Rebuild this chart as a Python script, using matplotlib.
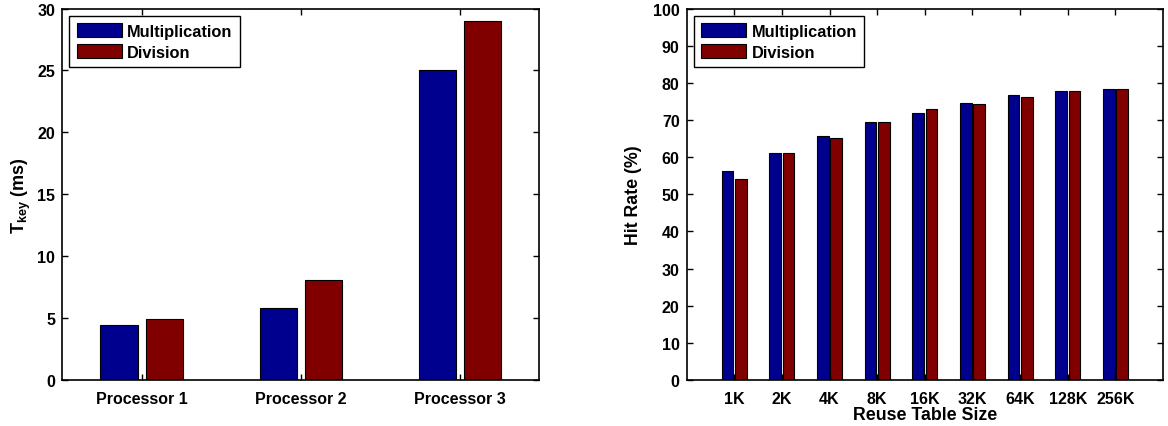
import numpy as np
import matplotlib.pyplot as plt

plt.rcParams['font.family'] = ['Liberation Sans', 'DejaVu Sans']
plt.rcParams['font.weight'] = 'bold'
plt.rcParams['mathtext.fontset'] = 'custom'
plt.rcParams['mathtext.bf'] = 'Liberation Sans:bold'
plt.rcParams['mathtext.rm'] = 'Liberation Sans:bold'

BLUE = '#00008f'
RED = '#800000'

processors = ['Processor 1', 'Processor 2', 'Processor 3']
tkey_mul = [4.44, 5.84, 25.0]
tkey_div = [4.90, 8.05, 29.0]

table_sizes = ['1K', '2K', '4K', '8K', '16K', '32K', '64K', '128K', '256K']
hit_mul = [56.3, 61.2, 65.8, 69.5, 72.0, 74.6, 76.7, 77.8, 78.3]
hit_div = [54.2, 61.2, 65.2, 69.5, 73.0, 74.4, 76.1, 77.8, 78.4]

fig = plt.figure(figsize=(11.68, 4.27), dpi=100)
ax1 = fig.add_axes([0.0531, 0.1077, 0.4087, 0.870])
ax2 = fig.add_axes([0.5879, 0.1077, 0.4078, 0.870])


def style(ax):
    ax.tick_params(direction='in', top=True, right=True, length=4, width=1,
                   labelsize=11.5)
    ax.tick_params(axis='x', pad=8)
    ax.tick_params(axis='y', pad=5)
    for lbl in ax.get_xticklabels() + ax.get_yticklabels():
        lbl.set_fontweight('bold')
    for sp in ax.spines.values():
        sp.set_linewidth(1.2)
    leg = ax.legend(loc='upper left', prop={'weight': 'bold', 'size': 11.8},
                    fancybox=False, framealpha=1, edgecolor='black',
                    handlelength=2.75, handleheight=0.95, handletextpad=0.3,
                    borderpad=0.45, labelspacing=0.3, borderaxespad=0.45)
    leg.get_frame().set_linewidth(1.0)


x1 = np.arange(1, len(processors) + 1)
ax1.bar(x1 - 0.142, tkey_mul, 0.233, color=BLUE, edgecolor='black', lw=0.8,
        label='Multiplication')
ax1.bar(x1 + 0.145, tkey_div, 0.233, color=RED, edgecolor='black', lw=0.8,
        label='Division')
ax1.set_xlim(0.5, 3.5)
ax1.set_ylim(0, 30)
ax1.set_xticks(x1)
ax1.set_xticklabels(processors)
ax1.set_yticks(np.arange(0, 31, 5))
ax1.set_ylabel(r'$\mathbf{T_{key}}$ (ms)', fontsize=13, fontweight='bold',
               labelpad=3)
style(ax1)

x2 = np.arange(1, len(table_sizes) + 1)
ax2.bar(x2 - 0.14, hit_mul, 0.245, color=BLUE, edgecolor='black', lw=0.8,
        label='Multiplication')
ax2.bar(x2 + 0.14, hit_div, 0.245, color=RED, edgecolor='black', lw=0.8,
        label='Division')
ax2.set_xlim(0, 10)
ax2.set_ylim(0, 100)
ax2.set_xticks(x2)
ax2.set_xticklabels(table_sizes)
ax2.set_yticks(np.arange(0, 101, 10))
ax2.set_ylabel('Hit Rate (%)', fontsize=12.8, fontweight='bold', labelpad=8)
ax2.set_xlabel('Reuse Table Size', fontsize=12.8, fontweight='bold', labelpad=0)
style(ax2)

fig.savefig('out.png', dpi=100)
